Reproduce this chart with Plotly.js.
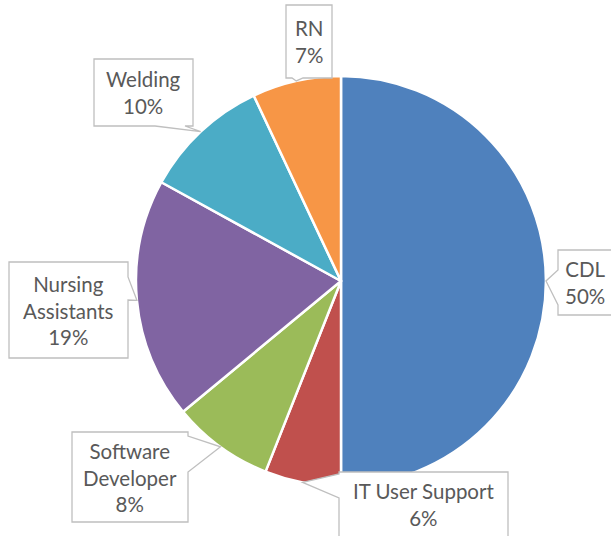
<!DOCTYPE html>
<html>
<head>
<meta charset="utf-8">
<script src="https://cdn.plot.ly/plotly-3.0.1.min.js"></script>
<style>html,body{margin:0;padding:0;background:#fff;}#chart{width:611px;height:536px;}</style>
</head>
<body>
<div id="chart"></div>
<script>
// Data
const categories = ["CDL", "IT User Support", "Software Developer", "Nursing Assistants", "Welding", "RN"];
const shares = [50, 6, 8, 19, 10, 7];
const labelText = ["CDL", "IT User Support", "Software<br>Developer", "Nursing<br>Assistants", "Welding", "RN"];
const colors = ["#4F81BD", "#C0504D", "#9BBB59", "#8064A2", "#4BACC6", "#F79646"];

// Layout of callout boxes (pixels): [x0, x1, y0, y1, side, base0, base1]
const boxes = [
  [558, 625, 250, 315, "left", 270, 305],
  [339, 508, 472, 550, "left", 474, 498],
  [72, 188, 432, 522, "right", 436, 472],
  [9, 128, 262, 358, "right", 277, 300],
  [94, 193, 59, 126, "bottom", 155, 185],
  [286, 332, 5, 78, "bottom", 292, 303]
];

const W = 611, H = 536;
const cx = 341, cy = 281, R = 205;
const px = x => x / W, py = y => 1 - y / H;

const total = shares.reduce((a, b) => a + b, 0);
let cum = 0;
const shapes = [], annotations = [];
shares.forEach((v, i) => {
  const mid = (cum + v / 2) / total * 2 * Math.PI;
  cum += v;
  const tx = cx + R * Math.sin(mid), ty = cy - R * Math.cos(mid);
  const [x0, x1, y0, y1, side, b0, b1] = boxes[i];
  let pts;
  if (side === "left") pts = [[x0, y0], [x1, y0], [x1, y1], [x0, y1], [x0, b1], [tx, ty], [x0, b0]];
  else if (side === "right") pts = [[x0, y0], [x1, y0], [x1, b0], [tx, ty], [x1, b1], [x1, y1], [x0, y1]];
  else pts = [[x0, y0], [x1, y0], [x1, y1], [b1, y1], [tx, ty], [b0, y1], [x0, y1]];
  const path = "M " + pts.map(p => px(p[0]).toFixed(5) + "," + py(p[1]).toFixed(5)).join(" L ") + " Z";
  shapes.push({type: "path", xref: "paper", yref: "paper", path: path,
    fillcolor: "#FFFFFF", line: {color: "#BFBFBF", width: 1.3}, layer: "above"});
  const ycen = i === 1 ? (y0 + 536) / 2 : (y0 + y1) / 2;
  const xcen = i === 0 ? (x0 + 611) / 2 : (x0 + x1) / 2;
  annotations.push({xref: "paper", yref: "paper", x: px(xcen), y: py(ycen),
    xanchor: "center", yanchor: "middle", showarrow: false,
    text: labelText[i] + "<br>" + v + "%",
    font: {family: "Lato, 'Open Sans', sans-serif", size: 20.5, color: "#595959"}});
});

const data = [{
  type: "pie", labels: categories, values: shares, sort: false,
  direction: "clockwise", rotation: 0,
  marker: {colors: colors, line: {color: "#FFFFFF", width: 2.5}},
  textinfo: "none", hoverinfo: "none",
  domain: {x: [px(cx - R), px(cx + R)], y: [py(cy + R), py(cy - R)]}
}];

const layout = {
  width: W, height: H, margin: {l: 0, r: 0, t: 0, b: 0},
  showlegend: false, paper_bgcolor: "#FFFFFF",
  shapes: shapes, annotations: annotations
};
Plotly.newPlot("chart", data, layout, {staticPlot: true});
</script>
</body>
</html>
